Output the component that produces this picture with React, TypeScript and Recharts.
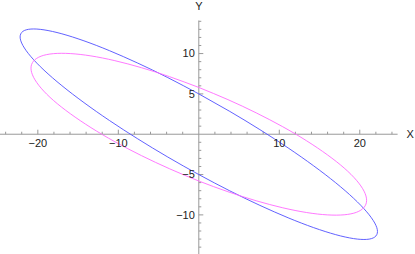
import { LineChart, Line, XAxis, YAxis, ReferenceLine, ReferenceDot } from "recharts";

// two ellipses, points (going round from the top y-axis crossing)
const blueX = [0, -3.85, -7.59, -11.1, -14.27, -17.01, -19.23, -20.86, -21.86, -22.2, -21.86, -20.86, -19.23, -17.01, -14.27, -11.1, -7.59, -3.85, 0, 3.85, 7.59, 11.1, 14.27, 17.01, 19.23, 20.86, 21.86, 22.2, 21.86, 20.86, 19.23, 17.01, 14.27, 11.1, 7.59, 3.85, 0];
const blueY = [5.0, 7.02, 8.82, 10.36, 11.58, 12.45, 12.94, 13.04, 12.75, 12.06, 11.01, 9.62, 7.94, 6.02, 3.92, 1.7, -0.57, -2.83, -5.0, -7.02, -8.82, -10.36, -11.58, -12.45, -12.94, -13.04, -12.75, -12.06, -11.01, -9.62, -7.94, -6.02, -3.92, -1.7, 0.57, 2.83, 5.0];
const pinkX = [0, -3.62, -7.13, -10.43, -13.4, -15.97, -18.06, -19.59, -20.53, -20.85, -20.53, -19.59, -18.06, -15.97, -13.4, -10.43, -7.13, -3.62, 0, 3.62, 7.13, 10.43, 13.4, 15.97, 18.06, 19.59, 20.53, 20.85, 20.53, 19.59, 18.06, 15.97, 13.4, 10.43, 7.13, 3.62, 0];
const pinkY = [5.8, 7.13, 8.25, 9.12, 9.71, 10.0, 9.99, 9.68, 9.07, 8.19, 7.06, 5.71, 4.19, 2.55, 0.82, -0.93, -2.65, -4.29, -5.8, -7.13, -8.25, -9.12, -9.71, -10.0, -9.99, -9.68, -9.07, -8.19, -7.06, -5.71, -4.19, -2.55, -0.82, 0.93, 2.65, 4.29, 5.8];

const xMajor = [-20, -10, 10, 20];
const xMajorLabels = ["\u221220", "\u221210", "10", "20"];
const xMinor = [-24, -22, -18, -16, -14, -12, -8, -6, -4, -2, 2, 4, 6, 8, 12, 14, 16, 18, 22, 24];
const yMajor = [-10, -5, 5, 10];
const yMajorLabels = ["\u221210", "\u22125", "5", "10"];
const yMinor = [-14, -13, -12, -11, -9, -8, -7, -6, -4, -3, -2, -1, 1, 2, 3, 4, 6, 7, 8, 9, 11, 12, 13, 14];

const blue = blueX.map((x, i) => ({ x, y: blueY[i] }));
const pink = pinkX.map((x, i) => ({ x, y: pinkY[i] }));

const AXIS = "#999";
const labelStyle = { fill: "#222", fontSize: 11, fontFamily: "'Liberation Sans', Arial, sans-serif" };

export default function App() {
  return (
    <div style={{ position: "fixed", left: 0, top: 0, width: 415, height: 254, background: "#fff" }}>
      <LineChart width={415} height={254} margin={{ top: 20.5, right: 17.4, bottom: 0, left: 0 }}>
        <XAxis type="number" dataKey="x" domain={[-24.7, 24.7]} hide allowDataOverflow />
        <YAxis type="number" dataKey="y" domain={[-14.85, 14.1]} hide allowDataOverflow />

        <ReferenceLine y={0} stroke={AXIS} strokeWidth={1} />
        <ReferenceLine x={0} stroke={AXIS} strokeWidth={1} />
        {xMinor.map(v => (
          <ReferenceLine key={"xm" + v} segment={[{ x: v, y: 0 }, { x: v, y: 0.31 }]} stroke={AXIS} ifOverflow="visible" />
        ))}
        {xMajor.map(v => (
          <ReferenceLine key={"xM" + v} segment={[{ x: v, y: 0 }, { x: v, y: 0.56 }]} stroke={AXIS} ifOverflow="visible" />
        ))}
        {yMinor.map(v => (
          <ReferenceLine key={"ym" + v} segment={[{ x: 0, y: v }, { x: 0.31, y: v }]} stroke={AXIS} ifOverflow="visible" />
        ))}
        {yMajor.map(v => (
          <ReferenceLine key={"yM" + v} segment={[{ x: 0, y: v }, { x: 0.56, y: v }]} stroke={AXIS} ifOverflow="visible" />
        ))}

        <Line data={blue} dataKey="y" type="natural" stroke="#5050ff" strokeWidth={0.9} dot={false} isAnimationActive={false} />
        <Line data={pink} dataKey="y" type="natural" stroke="#ff6aff" strokeWidth={0.9} dot={false} isAnimationActive={false} />

        {xMajor.map((v, i) => (
          <ReferenceDot key={"xl" + v} x={v} y={0} r={0} stroke="none" fill="none" ifOverflow="visible"
            label={{ value: xMajorLabels[i], position: "bottom", offset: 5, ...labelStyle }} />
        ))}
        {yMajor.map((v, i) => (
          <ReferenceDot key={"yl" + v} x={0} y={v} r={0} stroke="none" fill="none" ifOverflow="visible"
            label={{ value: yMajorLabels[i], position: "left", offset: 4, ...labelStyle }} />
        ))}
        <ReferenceDot x={24.7} y={0} r={0} stroke="none" fill="none" ifOverflow="visible"
          label={{ value: "X", position: "right", offset: 9, ...labelStyle }} />
        <ReferenceDot x={0} y={14.1} r={0} stroke="none" fill="none" ifOverflow="visible"
          label={{ value: "Y", position: "top", offset: 11, ...labelStyle }} />
      </LineChart>
    </div>
  );
}
